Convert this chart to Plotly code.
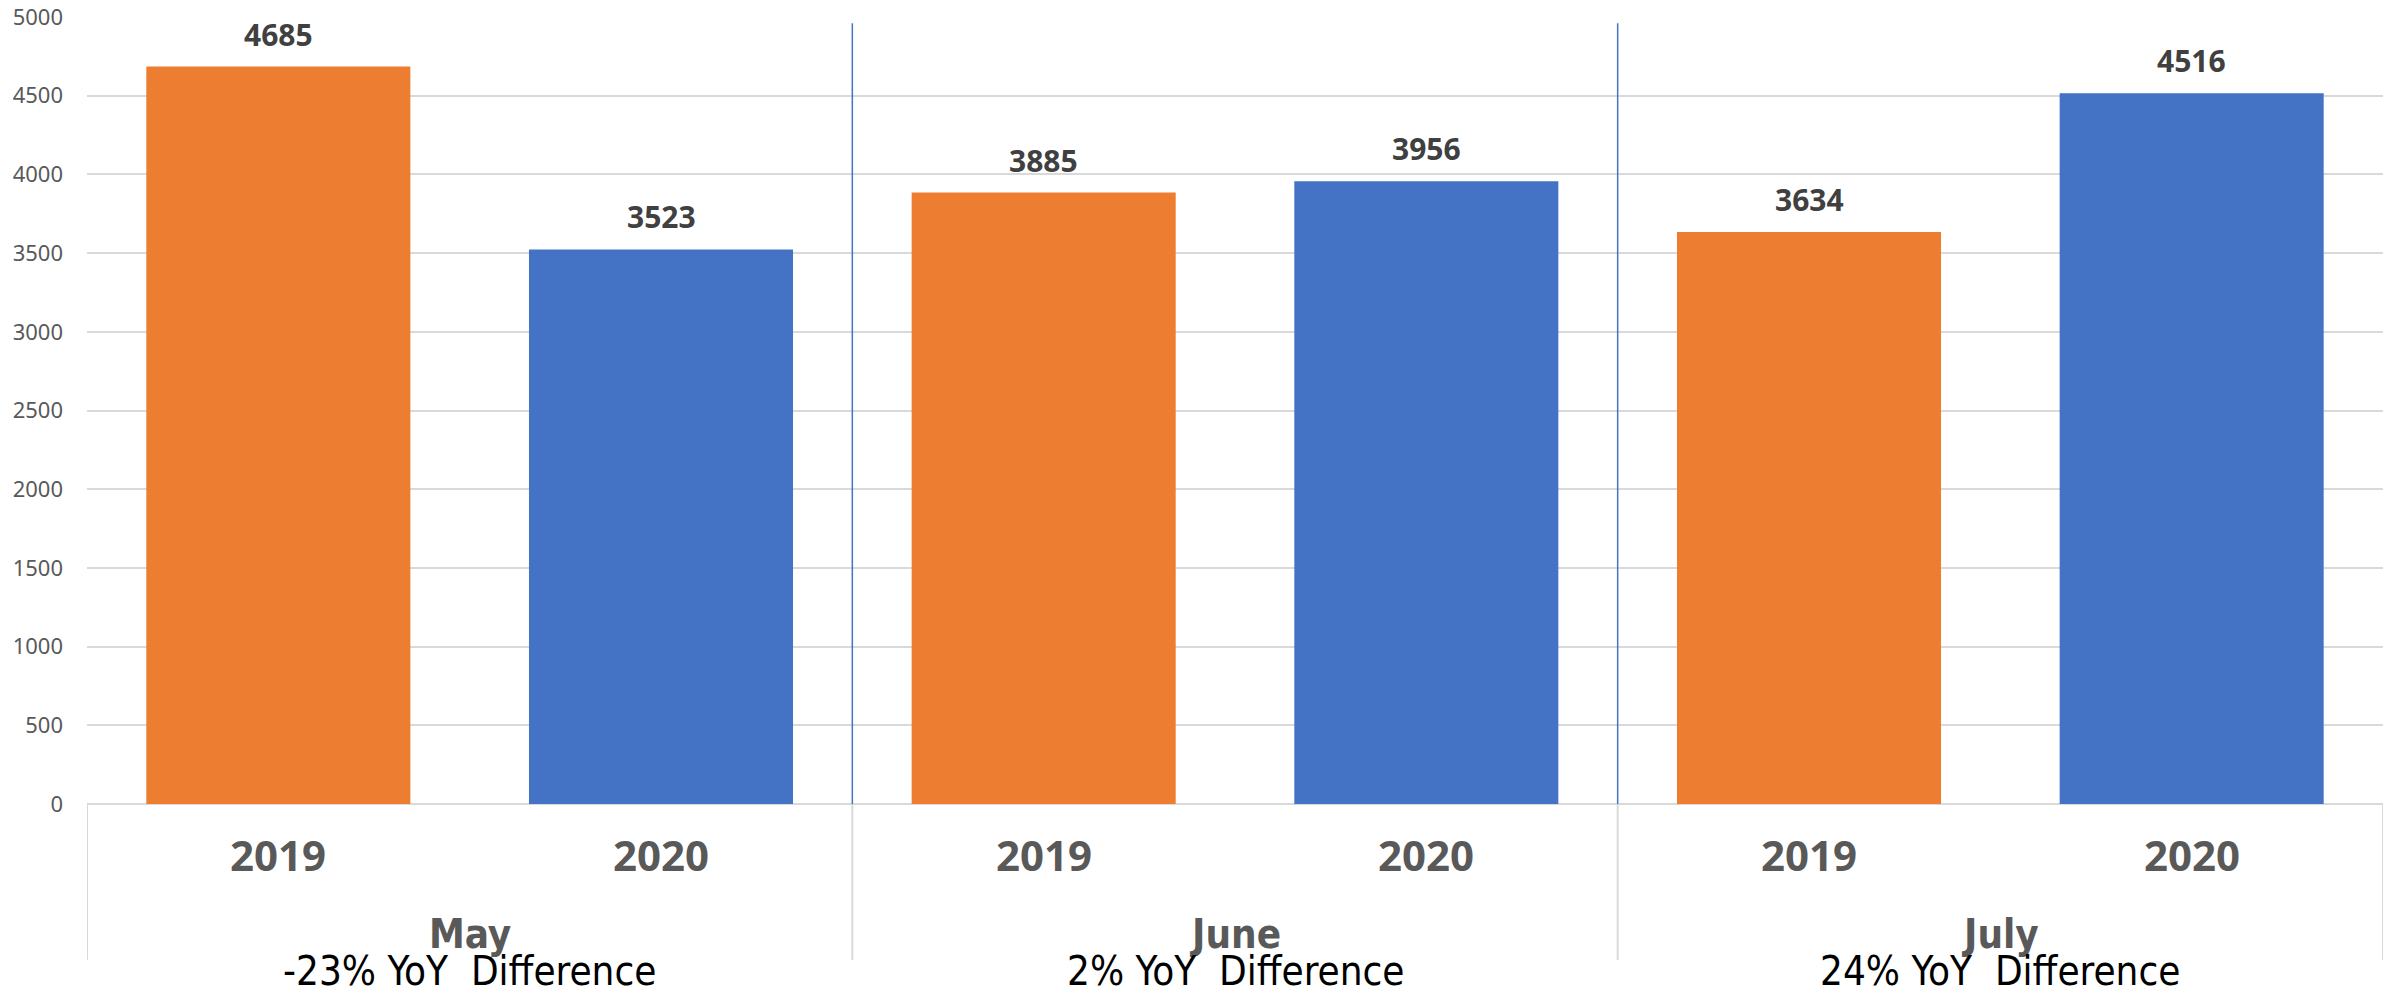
import plotly.graph_objects as go

months = ["May", "June", "July"]
years = ["2019", "2020"]
values_2019 = [4685, 3885, 3634]
values_2020 = [3523, 3956, 4516]
yoy_labels = ["-23% YoY  Difference", "2% YoY  Difference", "24% YoY  Difference"]

ORANGE = "#ED7D31"
BLUE = "#4472C4"
GRID = "#D9D9D9"

cats = []
for m in months:
    for y in years:
        cats.append(f"{m} {y}")

x2019 = [f"{m} 2019" for m in months]
x2020 = [f"{m} 2020" for m in months]

fig = go.Figure()
fig.add_trace(go.Bar(x=x2019, y=values_2019, name="2019", marker_color=ORANGE,
                     marker_line_width=0, width=0.69))
fig.add_trace(go.Bar(x=x2020, y=values_2020, name="2020", marker_color=BLUE,
                     marker_line_width=0, width=0.69))

ann = []
val_font = dict(family="Noto Sans, Open Sans, sans-serif", size=30, color="#404040")
for xs, vs in ((x2019, values_2019), (x2020, values_2020)):
    for xc, v in zip(xs, vs):
        ann.append(dict(x=xc, y=v, xref="x", yref="y", text=f"<b>{v}</b>",
                        showarrow=False, yanchor="bottom", yshift=10, font=val_font))

year_font = dict(family="Noto Sans, Open Sans, sans-serif", size=42, color="#595959")
for i, c in enumerate(cats):
    ann.append(dict(x=i, y=0, xref="x", yref="y", text=f"<b>{c.split()[1]}</b>",
                    showarrow=False, yanchor="middle", yshift=-50, font=year_font))

month_font = dict(family="Liberation Sans Narrow, DejaVu Sans Condensed, sans-serif",
                  size=40, color="#595959")
yoy_font = dict(family="Liberation Sans Narrow, DejaVu Sans Condensed, sans-serif",
                size=40, color="#000000")
shapes = []
for gi, m in enumerate(months):
    xc = gi * len(years) + (len(years) - 1) / 2
    ann.append(dict(x=xc, y=0, xref="x", yref="y", text=f"<b>{m}</b>",
                    showarrow=False, yanchor="middle", yshift=-130, font=month_font))
    ann.append(dict(x=xc, y=0, xref="x", yref="y", text=yoy_labels[gi],
                    showarrow=False, yanchor="middle", yshift=-167, font=yoy_font))

# category box lines
n = len(cats)
for b in range(0, n + 1, len(years)):
    shapes.append(dict(type="line", xref="x", yref="paper", x0=b - 0.5, x1=b - 0.5,
                       y0=0, y1=-0.198, line=dict(color=GRID, width=2)))
# blue separators inside plot
for b in range(len(years), n, len(years)):
    shapes.append(dict(type="line", xref="x", yref="y", x0=b - 0.5, x1=b - 0.5,
                       y0=0, y1=4960, line=dict(color=BLUE, width=1.5), layer="above"))

fig.update_layout(
    width=2392, height=988,
    margin=dict(l=87, r=9, t=17, b=184),
    paper_bgcolor="white", plot_bgcolor="white",
    showlegend=False,
    barmode="overlay",
    annotations=ann,
    shapes=shapes,
    xaxis=dict(type="category", categoryorder="array", categoryarray=cats,
               range=[-0.5, n - 0.5], showticklabels=False, showgrid=False,
               zeroline=False, showline=False, ticks="", automargin=False),
    yaxis=dict(range=[0, 5000], dtick=500, showgrid=True, gridcolor=GRID, gridwidth=1.5,
               zeroline=True, zerolinecolor=GRID, zerolinewidth=2, showline=False,
               ticks="", ticklabelstandoff=23, ticklabeloverflow="allow", automargin=False,
               tickfont=dict(family="Noto Sans, Open Sans, sans-serif", size=22,
                             color="#595959")),
)

fig.write_html("out.html", config={"displayModeBar": False},
               post_script="document.body.style.margin='0';")
